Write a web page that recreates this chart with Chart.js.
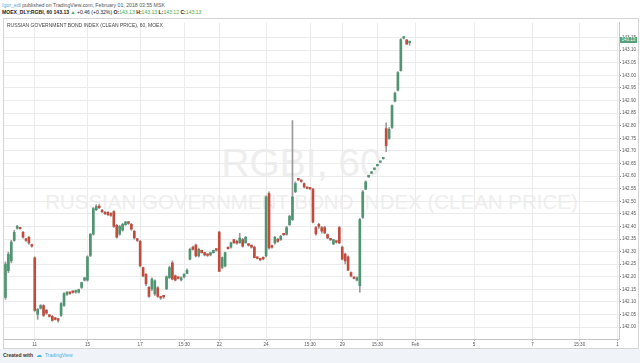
<!DOCTYPE html>
<html>
<head>
<meta charset="utf-8">
<script src="https://cdn.jsdelivr.net/npm/chart.js@4.4.0/dist/chart.umd.min.js"></script>
<style>
  body { margin: 0; width: 640px; height: 363px; overflow: hidden; background: #fff;
         font-family: "Liberation Sans", Arial, sans-serif; position: relative; }
  .abs { position: absolute; white-space: nowrap; }
  #head1 { left: 2px; top: 2px; font-size: 5.2px; color: #555; }
  #head1 .user { color: #5aa6dc; }
  #head2 { left: 2px; top: 9px; font-size: 5.1px; font-weight: bold; color: #222; }
  #head2 .g { color: #3fae5a; font-weight: normal; }
  #head2 .up { color: #3fae5a; }
  #frame { left: 3px; top: 18px; width: 636px; height: 331px; border: 1px solid #d4d4d4; box-sizing: border-box; }
  #wm1 { left: -6px; width: 615px; top: 143px; text-align: center; font-size: 39px; color: #eeeeee; line-height: 40px; }
  #wm2 { left: 4px; width: 615px; top: 191px; text-align: center; font-size: 20.5px; color: #eeeeee; line-height: 22px; }
  #title { left: 7px; top: 22px; font-size: 5px; color: #444; }
  #chart { position: absolute; left: 4px; top: 19px; }
  #lastPrice { left: 620px; top: 37px; width: 17px; height: 6px; background: #54a079; color: #fff;
               font-size: 4.5px; line-height: 6px; text-align: center; }
  #footer { left: 0; top: 349px; width: 640px; height: 14px; background: #f0f3f8; }
  #footer span { position: absolute; top: 3px; font-size: 5px; white-space: nowrap; }
</style>
</head>
<body>
<div class="abs" id="head1"><span class="user">Igor_edl</span> published on TradingView.com, February 01, 2018 03:55 MSK</div>
<div class="abs" id="head2">MOEX_DLY:RGBI, 60 143.13 <span class="up">▲</span> <span style="font-weight:normal">+0.46 (+0.32%)</span> O:<span class="g">143.13</span> H:<span class="g">143.13</span> L:<span class="g">143.12</span> C:<span class="g">143.13</span></div>
<div class="abs" id="frame"></div>
<div class="abs" id="wm1">RGBI, 60</div>
<div class="abs" id="wm2">RUSSIAN GOVERNMENT BOND INDEX (CLEAN PRICE)</div>
<canvas id="chart" width="634" height="329"></canvas>
<div class="abs" id="title">RUSSIAN GOVERNMENT BOND INDEX (CLEAN PRICE), 60, MOEX</div>
<div class="abs" id="lastPrice">143.13</div>
<div class="abs" id="footer">
  <span style="left:3px; color:#333; font-weight:bold;">Created with</span>
  <span style="left:36px; color:#3bb3e4; font-size:6px; top:2px;">☁</span>
  <span style="left:45px; color:#3bb3e4;">TradingView</span>
</div>

<script>
// Hourly candles, RGBI (MOEX)
const opens = [
  142.118, 142.224, 142.263, 142.345, 142.393, 142.393, 142.377, 142.349, 142.357, 142.326,
  142.275, 142.051, 142.075, 142.086, 142.067, 142.047, 142.043, 142.035, 142.031, 142.047,
  142.086, 142.130, 142.135, 142.139, 142.139, 142.139, 142.158, 142.187, 142.187, 142.285,
  142.369, 142.467, 142.479, 142.463, 142.455, 142.456, 142.451, 142.459, 142.404, 142.369,
  142.385, 142.407, 142.416, 142.408, 142.381, 142.350, 142.341, 142.237, 142.211, 142.158,
  142.152, 142.132, 142.156, 142.118, 142.122, 142.152, 142.197, 142.256, 142.204, 142.196,
  142.188, 142.200, 142.213, 142.270, 142.318, 142.326, 142.283, 142.305, 142.296, 142.287,
  142.287, 142.296, 142.308, 142.378, 142.237, 142.243, 142.314, 142.318, 142.348, 142.341,
  142.335, 142.348, 142.335, 142.330, 142.326, 142.318, 142.275, 142.269, 142.276, 142.283,
  142.531, 142.322, 142.335, 142.349, 142.348, 142.369, 142.368, 142.407, 142.427, 142.538,
  142.587, 142.581, 142.570, 142.553, 142.551, 142.548, 142.396, 142.408, 142.396, 142.396,
  142.368, 142.349, 142.331, 142.340, 142.396, 142.318, 142.290, 142.279, 142.217, 142.196,
  142.187, 142.165, 142.436, 142.548, 142.597, 142.612, 142.627, 142.641, 142.655, 142.669,
  142.789, 142.750, 142.793, 142.898, 142.941, 143.019, 143.148, 143.141, 143.130
];
const highs = [
  142.259, 142.298, 142.345, 142.385, 142.404, 142.396, 142.381, 142.353, 142.361, 142.330,
  142.279, 142.075, 142.090, 142.090, 142.071, 142.051, 142.047, 142.039, 142.035, 142.098,
  142.137, 142.141, 142.139, 142.143, 142.147, 142.151, 142.179, 142.198, 142.283, 142.373,
  142.475, 142.487, 142.487, 142.467, 142.459, 142.459, 142.455, 142.463, 142.408, 142.404,
  142.412, 142.420, 142.420, 142.412, 142.385, 142.353, 142.345, 142.239, 142.212, 142.161,
  142.196, 142.188, 142.161, 142.122, 142.126, 142.204, 142.243, 142.263, 142.208, 142.200,
  142.200, 142.212, 142.232, 142.314, 142.322, 142.330, 142.314, 142.306, 142.298, 142.290,
  142.298, 142.306, 142.310, 142.381, 142.279, 142.298, 142.318, 142.338, 142.349, 142.345,
  142.373, 142.353, 142.361, 142.330, 142.326, 142.322, 142.279, 142.271, 142.279, 142.522,
  142.538, 142.326, 142.361, 142.353, 142.365, 142.373, 142.400, 142.444, 142.820, 142.577,
  142.589, 142.583, 142.573, 142.555, 142.553, 142.551, 142.400, 142.412, 142.400, 142.400,
  142.371, 142.351, 142.349, 142.341, 142.400, 142.322, 142.294, 142.283, 142.220, 142.198,
  142.200, 142.432, 142.542, 142.581, 142.601, 142.616, 142.631, 142.645, 142.659, 142.673,
  142.812, 142.793, 142.883, 142.934, 143.015, 143.146, 143.154, 143.142, 143.130
];
const lows = [
  142.110, 142.216, 142.255, 142.341, 142.389, 142.389, 142.353, 142.341, 142.330, 142.318,
  142.063, 142.031, 142.071, 142.043, 142.051, 142.040, 142.024, 142.029, 142.020, 142.043,
  142.082, 142.126, 142.130, 142.135, 142.135, 142.135, 142.154, 142.183, 142.183, 142.280,
  142.365, 142.463, 142.471, 142.455, 142.447, 142.444, 142.440, 142.396, 142.353, 142.365,
  142.381, 142.404, 142.408, 142.385, 142.349, 142.341, 142.239, 142.200, 142.165, 142.118,
  142.145, 142.126, 142.118, 142.110, 142.114, 142.149, 142.193, 142.188, 142.184, 142.192,
  142.184, 142.196, 142.212, 142.267, 142.306, 142.279, 142.279, 142.294, 142.283, 142.281,
  142.283, 142.294, 142.302, 142.220, 142.232, 142.239, 142.310, 142.314, 142.334, 142.330,
  142.334, 142.318, 142.334, 142.322, 142.314, 142.275, 142.271, 142.263, 142.267, 142.279,
  142.310, 142.314, 142.330, 142.338, 142.345, 142.363, 142.365, 142.404, 142.424, 142.534,
  142.583, 142.575, 142.553, 142.549, 142.547, 142.414, 142.365, 142.392, 142.373, 142.371,
  142.351, 142.345, 142.328, 142.334, 142.332, 142.267, 142.251, 142.224, 142.200, 142.192,
  142.184, 142.139, 142.432, 142.546, 142.595, 142.610, 142.625, 142.639, 142.653, 142.667,
  142.697, 142.746, 142.789, 142.895, 142.938, 143.017, 143.145, 143.123, 143.120
];
const closes = [
  142.251, 142.290, 142.338, 142.377, 142.400, 142.391, 142.357, 142.345, 142.335, 142.322,
  142.067, 142.071, 142.086, 142.047, 142.056, 142.043, 142.027, 142.031, 142.027, 142.094,
  142.133, 142.139, 142.134, 142.138, 142.145, 142.149, 142.177, 142.196, 142.279, 142.369,
  142.471, 142.479, 142.475, 142.459, 142.451, 142.446, 142.444, 142.400, 142.357, 142.400,
  142.408, 142.417, 142.412, 142.389, 142.354, 142.345, 142.243, 142.204, 142.172, 142.122,
  142.191, 142.184, 142.122, 142.116, 142.120, 142.200, 142.237, 142.191, 142.187, 142.194,
  142.196, 142.211, 142.226, 142.309, 142.309, 142.283, 142.309, 142.296, 142.287, 142.285,
  142.296, 142.305, 142.306, 142.221, 142.276, 142.296, 142.312, 142.335, 142.335, 142.334,
  142.354, 142.322, 142.357, 142.326, 142.318, 142.276, 142.273, 142.267, 142.271, 142.518,
  142.315, 142.318, 142.357, 142.341, 142.361, 142.367, 142.396, 142.440, 142.518, 142.570,
  142.585, 142.579, 142.557, 142.551, 142.549, 142.417, 142.370, 142.400, 142.381, 142.374,
  142.354, 142.347, 142.348, 142.338, 142.335, 142.270, 142.263, 142.226, 142.204, 142.194,
  142.197, 142.427, 142.538, 142.577, 142.599, 142.614, 142.629, 142.643, 142.657, 142.671,
  142.721, 142.786, 142.880, 142.930, 143.011, 143.142, 143.150, 143.124, 143.130
];

// Time axis: hourly slots (incl. empty future), and the labelled slots
const slotCount = 210;
const xTickIndex = [10, 28, 46, 61, 73, 89, 104, 115, 127, 140, 160, 180, 196, 209];
const xTickText = ['11', '15', '17', '15:30', '22', '24', '15:30', '29', '15:30', 'Feb', '5', '7', '15:30', '1'];

// Price axis labels
const yTicks = [142.00, 142.05, 142.10, 142.15, 142.20, 142.25, 142.30, 142.35, 142.40, 142.45, 142.50, 142.55,
                142.60, 142.65, 142.70, 142.75, 142.80, 142.85, 142.90, 142.95, 143.00, 143.05, 143.10, 143.15];

const upColor = '#4f9572';
const downColor = '#c24b3c';
const wickColor = '#9a9a9c';

const labels = [];
for (let i = 0; i < slotCount; i++) labels.push(i);

const bodies = opens.map((o, i) => [o, closes[i]]);
const wicks = lows.map((l, i) => [l, highs[i]]);
const bodyColors = opens.map((o, i) => closes[i] >= o ? upColor : downColor);

const tickFont = { family: 'Liberation Sans', size: 4.6 };

new Chart(document.getElementById('chart'), {
    type: 'bar',
    data: {
        labels: labels,
        datasets: [
            {
                label: 'body',
                data: bodies,
                backgroundColor: bodyColors,
                barThickness: 2,
                minBarLength: 1.5,
                grouped: false,
                order: 0
            },
            {
                label: 'wick',
                data: wicks,
                backgroundColor: wickColor,
                barThickness: 1,
                minBarLength: 1,
                grouped: false,
                order: 1
            }
        ]
    },
    options: {
        responsive: false,
        animation: false,
        layout: { padding: 0 },
        plugins: {
            legend: { display: false },
            tooltip: { enabled: false }
        },
        scales: {
            x: {
                offset: true,
                grid: { offset: false, color: '#ebebeb', tickLength: 2, tickColor: '#aaa' },
                border: { color: '#c4c4c4' },
                ticks: {
                    autoSkip: false,
                    maxRotation: 0,
                    padding: 1,
                    color: '#555',
                    font: tickFont,
                    callback: (value, index) => {
                        const k = xTickIndex.indexOf(index);
                        return k >= 0 ? xTickText[k] : null;
                    }
                },
                afterFit: (scale) => { scale.height = 9; }
            },
            y: {
                position: 'right',
                min: 141.953,
                max: 143.209,
                grid: { color: '#ebebeb', tickLength: 2, tickColor: '#888' },
                border: { color: '#c4c4c4' },
                afterBuildTicks: (scale) => {
                    scale.ticks = yTicks.map(v => ({ value: v }));
                },
                ticks: {
                    padding: 1,
                    color: '#555',
                    font: tickFont,
                    callback: (v) => Number(v).toFixed(2)
                },
                afterFit: (scale) => { scale.width = 19; }
            }
        }
    }
});
</script>
</body>
</html>
